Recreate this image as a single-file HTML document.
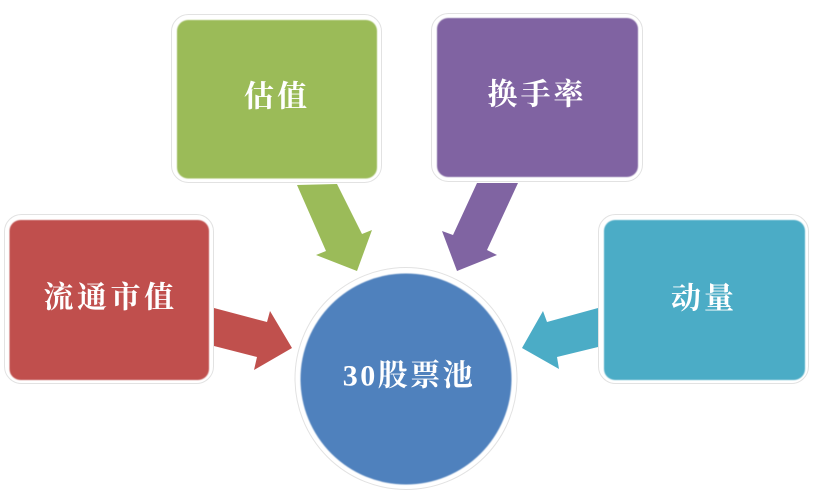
<!DOCTYPE html>
<html lang="zh"><head><meta charset="utf-8"><style>
html,body{margin:0;padding:0;background:#fff;width:816px;height:498px;overflow:hidden}
text{font-family:"Liberation Serif","Noto Serif CJK SC",serif;font-weight:700;font-size:30px;fill:#fff;text-anchor:middle;dominant-baseline:central}
</style></head><body>
<svg width="816" height="498" viewBox="0 0 816 498" xmlns="http://www.w3.org/2000/svg" style="display:block">
<defs><filter id="b" x="-5%" y="-5%" width="110%" height="110%"><feGaussianBlur stdDeviation="0.5"/></filter></defs>
<polygon points="214,308 267,322 270,311 292,348 254,370 257,357 214,346" fill="#c0504d"/>
<polygon points="297,185 337,184 362,234 372,230 357,271 316,255 326,251" fill="#9bbb59"/>
<polygon points="477,183 518,183 487,250 497,255 457,271 442,231 453,235" fill="#8064a2"/>
<polygon points="598,308 547,322 543,311 522,348 559,369 557,357 598,347" fill="#4bacc6"/>
<g fill="#fff" stroke="#e2e2e2" stroke-width="1">
<rect x="4.500" y="214.500" width="209" height="169" rx="17"/>
<rect x="171.500" y="14.500" width="210" height="168" rx="17"/>
<rect x="431.500" y="13.500" width="211" height="168" rx="17"/>
<rect x="598.500" y="214.500" width="210" height="169" rx="17"/>
<circle cx="406" cy="378.500" r="111"/>
</g>
<g filter="url(#b)">
<rect x="9.500" y="220" width="199.500" height="160" rx="11" fill="#c0504d"/>
<rect x="177" y="20" width="200" height="158.500" rx="11" fill="#9bbb59"/>
<rect x="437" y="18" width="201" height="159" rx="11" fill="#8064a2"/>
<rect x="604" y="220" width="201" height="160" rx="11" fill="#4bacc6"/>
<circle cx="406" cy="379" r="105.500" fill="#4f81bd"/>
</g>
<text x="110.500" y="298" letter-spacing="3.500">流通市值</text>
<text x="277" y="97" letter-spacing="3">估值</text>
<text x="537" y="95" letter-spacing="3">换手率</text>
<text x="704" y="299" letter-spacing="3">动量</text>
<text x="409" y="376" letter-spacing="2.500">30股票池</text>
</svg>
</body></html>
